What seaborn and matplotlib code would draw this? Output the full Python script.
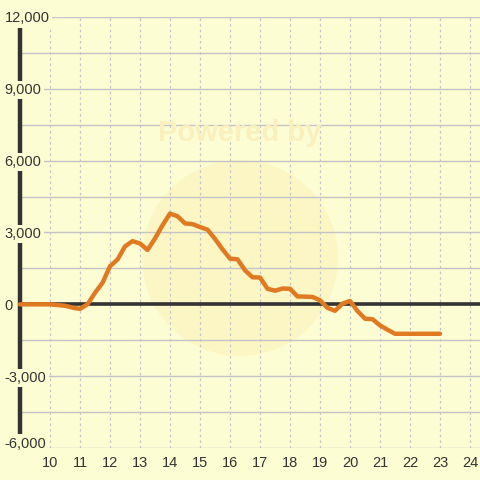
import matplotlib
matplotlib.use("Agg")
import matplotlib.pyplot as plt
import matplotlib.transforms as mtrans
import seaborn as sns
import pandas as pd
from matplotlib.patches import Circle

# ---- data ----
hours = [9.0, 10.0, 10.5, 10.8, 11.0, 11.25, 11.5, 11.75, 12.0, 12.25, 12.5, 12.75,
         13.0, 13.25, 13.5, 13.75, 14.0, 14.25, 14.5, 14.75, 15.0, 15.25, 15.5, 15.75,
         16.0, 16.25, 16.5, 16.75, 17.0, 17.25, 17.5, 17.75, 18.0, 18.25, 18.5, 18.75,
         19.0, 19.25, 19.5, 19.75, 20.0, 20.25, 20.5, 20.75, 21.0, 21.25, 21.5, 23.0]
values = [0, 0, -60, -150, -190, 0, 480, 900, 1590, 1870, 2420, 2640,
          2540, 2270, 2750, 3300, 3790, 3680, 3380, 3350, 3230, 3120, 2730, 2300,
          1910, 1880, 1420, 1130, 1120, 650, 570, 660, 650, 330, 320, 310,
          170, -150, -270, 30, 140, -280, -600, -620, -880, -1060, -1230, -1230]
x_ticks = list(range(10, 25))
y_ticks = [-6000, -3000, 0, 3000, 6000, 9000, 12000]
y_minor = [-4500, -1500, 1500, 4500, 7500, 10500]

df = pd.DataFrame({"hour": hours, "value": values})

bg = "#fdfdd3"
sns.set_theme(style="white")
plt.rcParams["font.family"] = ["Liberation Sans", "DejaVu Sans"]

fig = plt.figure(figsize=(4.8, 4.8), dpi=100, facecolor=bg)
ax = fig.add_axes([20/480, 1 - 448/480, 460/480, (448 - 17)/480])
ax.set_facecolor(bg)
ax.set_axisbelow(False)

# watermark
ax.add_patch(Circle((240/480, 1 - 258/480), 98/480, transform=fig.transFigure,
                    facecolor="#fbf1b8", edgecolor="none", alpha=0.55, zorder=0))
fig.text(240/480, 1 - 133/480, "Powered by", ha="center", va="center",
         fontsize=21, fontweight="bold", color="#f9f0be", zorder=0)

ax.set_xlim(9, 9 + 460/30)
ax.set_ylim(-6000, 12000)

# grids
for yv in y_ticks + y_minor:
    ax.axhline(yv, color="#c4c4c8", lw=1, zorder=1)
for xv in x_ticks:
    ax.axvline(xv, color="#c4c4c8", lw=0.9, ls=(0, (2, 2.5)), zorder=1)

ax.axhline(0, color="#333333", lw=2.6, zorder=2)
ax.axvline(9, color="#333333", lw=3.2, zorder=2, clip_on=False)

sns.lineplot(data=df, x="hour", y="value", ax=ax, color="#e07a22", lw=3.2,
             zorder=3, clip_on=False)

for s in ax.spines.values():
    s.set_visible(False)

ax.set_xticks(x_ticks)
ax.set_xticklabels([str(v) for v in x_ticks])
ax.set_yticks(y_ticks)
ax.set_yticklabels([f"{v:,}" for v in y_ticks])
ax.tick_params(axis="x", length=0, pad=6, labelsize=10.5, labelcolor="#333333")
ax.tick_params(axis="y", length=0, pad=11, labelsize=10.5, labelcolor="#333333")
for lab in ax.get_yticklabels():
    lab.set_horizontalalignment("left")
    lab.set_bbox(dict(facecolor=bg, edgecolor="none", pad=1.5))
bottom_lab = ax.get_yticklabels()[0]
bottom_lab.set_transform(bottom_lab.get_transform() +
                         mtrans.ScaledTranslation(0, 6/100, fig.dpi_scale_trans))
ax.yaxis.set_zorder(5)
ax.set_xlabel("")
ax.set_ylabel("")

fig.savefig("out.png", dpi=100, facecolor=bg)
